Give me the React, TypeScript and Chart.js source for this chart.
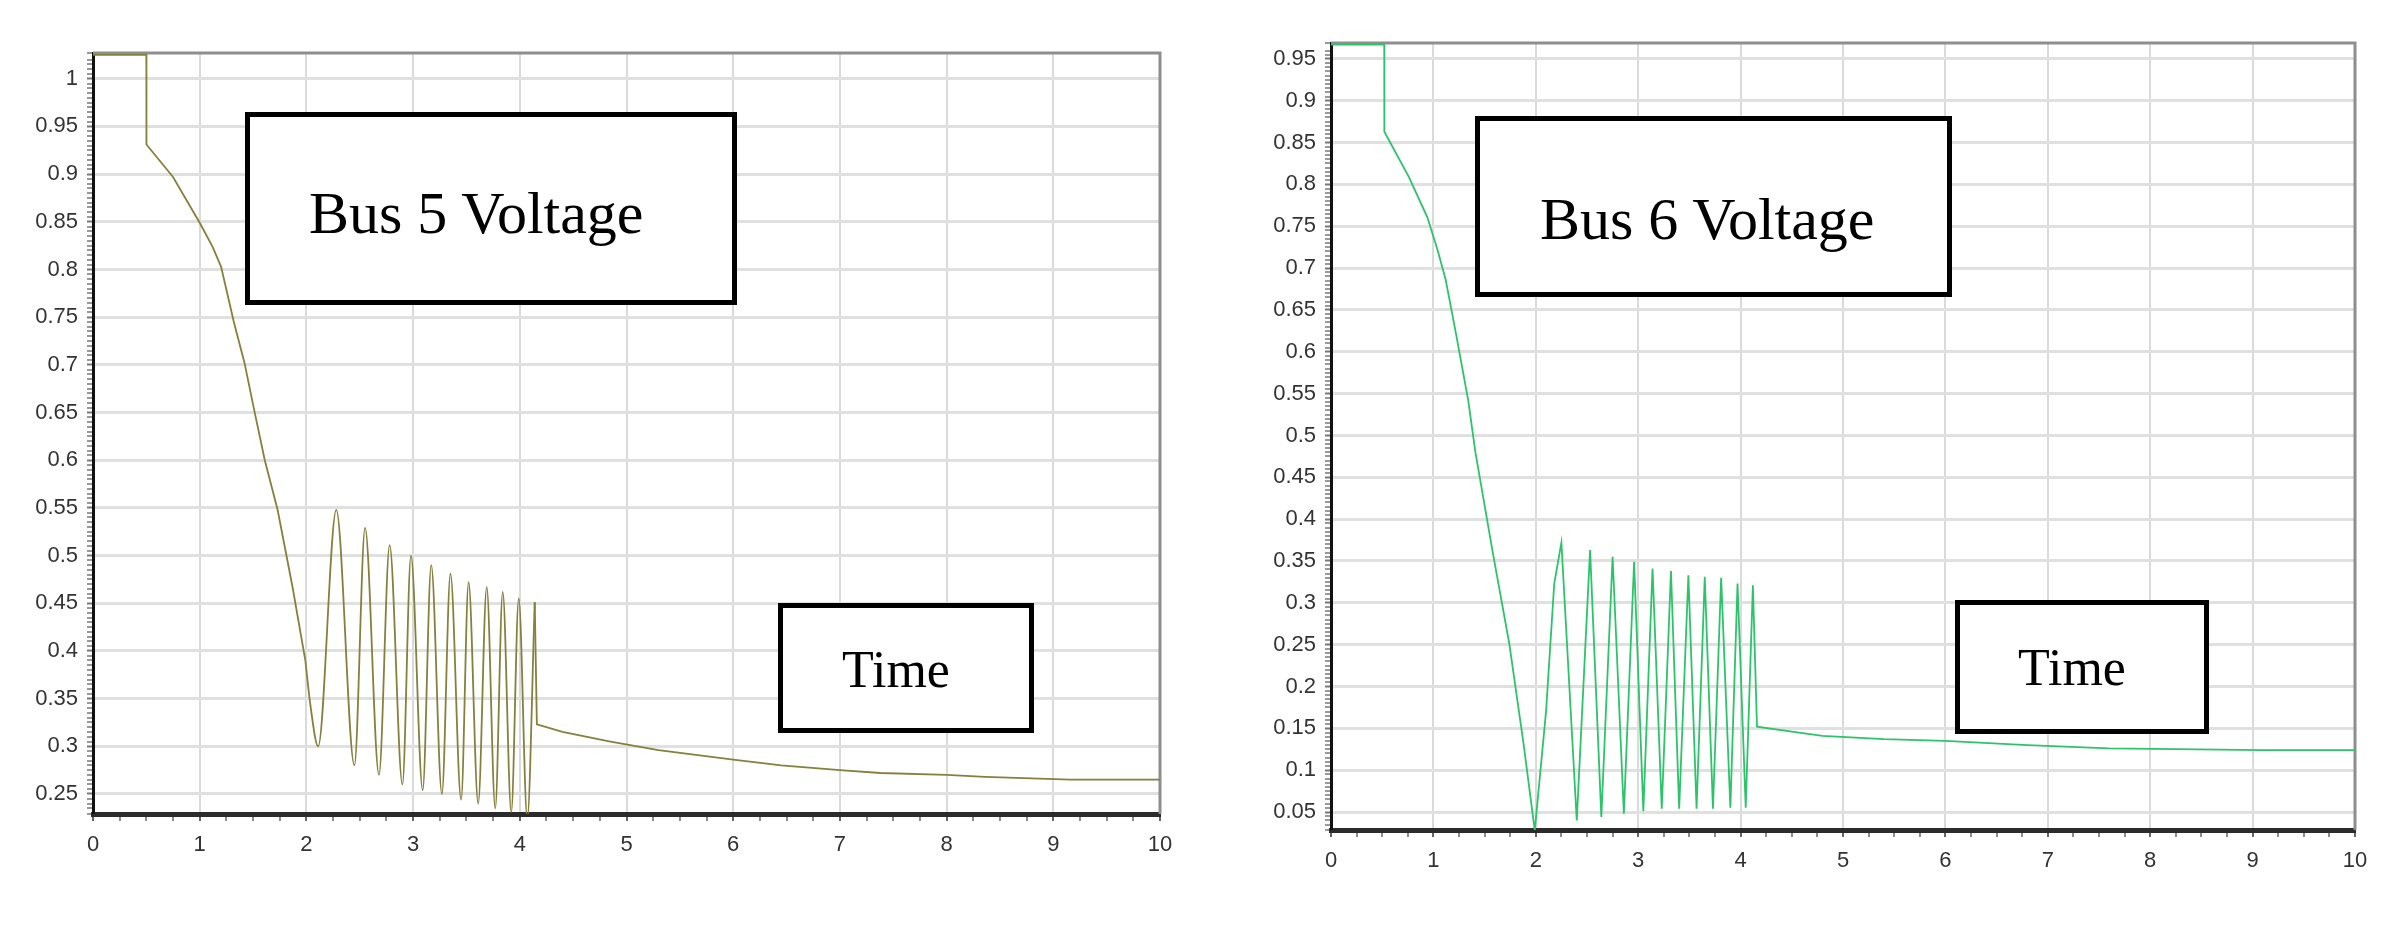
import React, { useEffect, useRef } from 'react';
import { Chart, registerables } from 'chart.js';

Chart.register(...registerables);

// ---- Data ----
const bus5Time = [0, 0.5, 0.501, 0.75, 1.0, 1.12, 1.2, 1.32, 1.42, 1.51, 1.61, 1.73, 1.87, 1.99, 2.04, 2.11, 2.28, 2.45, 2.55, 2.68, 2.78, 2.9, 2.98, 3.09, 3.17, 3.27, 3.35, 3.45, 3.52, 3.61, 3.69, 3.77, 3.84, 3.92, 3.99, 4.07, 4.14, 4.16, 4.4, 4.85, 5.3, 6.0, 6.45, 7.0, 7.38, 8.0, 8.36, 9.16, 10];
const bus5Voltage = [1.025, 1.025, 0.931, 0.897, 0.849, 0.824, 0.803, 0.745, 0.702, 0.653, 0.6, 0.548, 0.467, 0.39, 0.341, 0.3, 0.548, 0.28, 0.529, 0.27, 0.511, 0.26, 0.5, 0.254, 0.49, 0.25, 0.481, 0.244, 0.472, 0.24, 0.467, 0.235, 0.462, 0.231, 0.455, 0.224, 0.451, 0.323, 0.315, 0.305, 0.296, 0.286, 0.28, 0.275, 0.272, 0.27, 0.268, 0.265, 0.265];
// time window in which the Bus 5 trace oscillates smoothly
const bus5Oscillation = [1.99, 4.14];

const bus6Time = [0, 0.52, 0.521, 0.76, 0.94, 1.04, 1.12, 1.22, 1.34, 1.41, 1.58, 1.74, 1.88, 1.99, 2.1, 2.18, 2.25, 2.4, 2.53, 2.64, 2.75, 2.86, 2.96, 3.05, 3.14, 3.23, 3.32, 3.4, 3.49, 3.57, 3.65, 3.73, 3.81, 3.9, 3.97, 4.05, 4.12, 4.16, 4.5, 4.8, 5.4, 6.0, 6.8, 7.6, 9.1, 10];
const bus6Voltage = [0.967, 0.967, 0.863, 0.809, 0.761, 0.722, 0.686, 0.622, 0.542, 0.48, 0.36, 0.252, 0.132, 0.028, 0.17, 0.323, 0.372, 0.04, 0.363, 0.044, 0.355, 0.048, 0.349, 0.051, 0.341, 0.054, 0.338, 0.054, 0.333, 0.054, 0.331, 0.054, 0.33, 0.055, 0.323, 0.055, 0.321, 0.152, 0.146, 0.141, 0.137, 0.135, 0.13, 0.126, 0.124, 0.124];

const timeMin = 0;
const timeMax = 10;
const timeMajorStep = 1;
const timeMinorStep = 0.25;
const voltMajorStep = 0.05;
const voltMinorStep = 0.005;
const bus5Range = [0.229, 1.027];
const bus6Range = [0.0285, 0.969];

const boxLabels = ['Bus 5 Voltage', 'Time', 'Bus 6 Voltage', 'Time'];

function isMultiple(v: number, step: number) {
  const r = v / step;
  return Math.abs(r - Math.round(r)) < 1e-6;
}

function fmt(v: number) {
  return String(Math.round(v * 100) / 100);
}

const framePlugin = {
  id: 'frame',
  beforeDatasetsDraw(chart: any) {
    const { ctx, chartArea: a } = chart;
    ctx.save();
    ctx.strokeStyle = '#8e8e8e';
    ctx.lineWidth = 3;
    ctx.beginPath();
    ctx.moveTo(a.left, a.top);
    ctx.lineTo(a.right, a.top);
    ctx.lineTo(a.right, a.bottom);
    ctx.stroke();
    ctx.restore();
  },
};

type Props = {
  time: number[];
  volts: number[];
  range: number[];
  color: string;
  width: number;
  height: number;
  yAxisWidth: number;
  xAxisHeight: number;
  padTop: number;
  padRight: number;
  smooth: number[] | null;
};

function buildDatasets(p: Props) {
  const pts = p.time.map((t, i) => ({ x: t, y: p.volts[i] }));
  const base = { borderColor: p.color, borderWidth: 1.8, pointRadius: 0, fill: false, tension: 0 };
  if (!p.smooth) return [{ ...base, data: pts }];
  const [s0, s1] = p.smooth;
  return [
    { ...base, data: pts.filter((q) => q.x <= s0) },
    { ...base, data: pts.filter((q) => q.x >= s0 && q.x <= s1), cubicInterpolationMode: 'monotone' },
    { ...base, data: pts.filter((q) => q.x >= s1) },
  ];
}

function VoltageChart(p: Props) {
  const ref = useRef<HTMLCanvasElement | null>(null);
  useEffect(() => {
    const tickFont = { family: '"Liberation Sans", Arial, sans-serif', size: 22 };
    const chart = new Chart(ref.current as HTMLCanvasElement, {
      type: 'line',
      data: { datasets: buildDatasets(p) as any },
      options: {
        responsive: false,
        animation: false,
        devicePixelRatio: 1,
        layout: { padding: { top: p.padTop, right: p.padRight, left: 0, bottom: 0 } },
        plugins: { legend: { display: false }, tooltip: { enabled: false } },
        scales: {
          x: {
            type: 'linear',
            min: timeMin,
            max: timeMax,
            afterFit: (s: any) => {
              s.height = p.xAxisHeight;
            },
            ticks: {
              stepSize: timeMinorStep,
              autoSkip: false,
              maxRotation: 0,
              minRotation: 0,
              padding: 11,
              color: '#333',
              font: tickFont,
              callback: (v: any) => (isMultiple(Number(v), timeMajorStep) ? fmt(Number(v)) : ''),
            },
            grid: {
              color: '#dadada',
              lineWidth: (c: any) => (c.tick && isMultiple(c.tick.value, timeMajorStep) ? 2 : 0),
              tickLength: 7,
              tickColor: '#666',
              tickWidth: (c: any) => (c.tick && isMultiple(c.tick.value, timeMajorStep) ? 2 : 1.5),
            },
            border: { color: '#2b2b2b', width: 5 },
          },
          y: {
            type: 'linear',
            min: p.range[0],
            max: p.range[1],
            afterFit: (s: any) => {
              s.width = p.yAxisWidth;
            },
            ticks: {
              stepSize: voltMinorStep,
              autoSkip: false,
              padding: 9,
              color: '#333',
              font: tickFont,
              callback: (v: any) => (isMultiple(Number(v), voltMajorStep) ? fmt(Number(v)) : ''),
            },
            grid: {
              color: '#e0e0e0',
              lineWidth: (c: any) => (c.tick && isMultiple(c.tick.value, voltMajorStep) ? 3 : 0),
              tickLength: 6,
              tickColor: '#777',
              tickWidth: (c: any) => (c.tick && isMultiple(c.tick.value, voltMajorStep) ? 2 : 1.5),
            },
            border: { color: '#111', width: 3 },
          },
        },
      } as any,
      plugins: [framePlugin],
    });
    return () => chart.destroy();
  }, []);
  return <canvas ref={ref} width={p.width} height={p.height} style={{ display: 'block', width: p.width, height: p.height }} />;
}

function LabelBox(props: { text: string; left: number; top: number; w: number; h: number; size: number; padTop: number; padLeft: number }) {
  return (
    <div
      style={{
        position: 'absolute',
        left: props.left,
        top: props.top,
        width: props.w,
        height: props.h,
        boxSizing: 'border-box',
        border: '5px solid #000',
        background: '#fff',
        fontFamily: '"Liberation Serif", "Times New Roman", serif',
        fontSize: props.size,
        lineHeight: 1,
        paddingTop: props.padTop,
        paddingLeft: props.padLeft,
        whiteSpace: 'nowrap',
        color: '#000',
        zIndex: 2,
      }}
    >
      {props.text}
    </div>
  );
}

export default function App() {
  return (
    <div style={{ position: 'fixed', left: 0, top: 0, width: 2404, height: 931, background: '#fff', overflow: 'hidden' }}>
      <div style={{ position: 'absolute', left: 0, top: 0 }}>
        <VoltageChart time={bus5Time} volts={bus5Voltage} range={bus5Range} color="#84813c" width={1200} height={931} yAxisWidth={93} xAxisHeight={117} padTop={53} padRight={40} smooth={bus5Oscillation} />
      </div>
      <div style={{ position: 'absolute', left: 1200, top: 0 }}>
        <VoltageChart time={bus6Time} volts={bus6Voltage} range={bus6Range} color="#2cc46a" width={1204} height={931} yAxisWidth={131} xAxisHeight={101} padTop={43} padRight={49} smooth={null} />
      </div>
      <LabelBox text={boxLabels[0]} left={245} top={112} w={492} h={193} size={60} padTop={66} padLeft={59} />
      <LabelBox text={boxLabels[1]} left={778} top={603} w={256} h={130} size={52} padTop={36} padLeft={59} />
      <LabelBox text={boxLabels[2]} left={1475} top={116} w={477} h={181} size={60} padTop={68} padLeft={60} />
      <LabelBox text={boxLabels[3]} left={1955} top={600} w={254} h={134} size={52} padTop={37} padLeft={58} />
    </div>
  );
}
